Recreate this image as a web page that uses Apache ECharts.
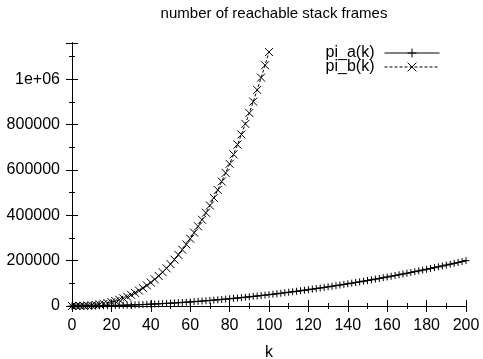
<!DOCTYPE html>
<html>
<head>
<meta charset="utf-8">
<script src="https://cdn.jsdelivr.net/npm/echarts@6/dist/echarts.min.js"></script>
<style>
  html, body { margin: 0; padding: 0; background: #fff; }
  #chart { width: 483px; height: 359px; }
</style>
</head>
<body>
<div id="chart"></div>
<script>
// k 值（每隔 2 取一个点）
const kA = [0,2,4,6,8,10,12,14,16,18,20,22,24,26,28,30,32,34,36,38,40,42,44,46,48,50,52,54,56,58,60,62,64,66,68,70,72,74,76,78,80,82,84,86,88,90,92,94,96,98,100,102,104,106,108,110,112,114,116,118,120,122,124,126,128,130,132,134,136,138,140,142,144,146,148,150,152,154,156,158,160,162,164,166,168,170,172,174,176,178,180,182,184,186,188,190,192,194,196,198,200];
const piA = [0,20,80,180,320,500,720,980,1280,1620,2000,2420,2880,3380,3920,4500,5120,5780,6480,7220,8000,8820,9680,10580,11520,12500,13520,14580,15680,16820,18000,19220,20480,21780,23120,24500,25920,27380,28880,30420,32000,33620,35280,36980,38720,40500,42320,44180,46080,48020,50000,52020,54080,56180,58320,60500,62720,64980,67280,69620,72000,74420,76880,79380,81920,84500,87120,89780,92480,95220,98000,100820,103680,106580,109520,112500,115520,118580,121680,124820,128000,131220,134480,137780,141120,144500,147920,151380,154880,158420,162000,165620,169280,172980,176720,180500,184320,188180,192080,196020,200000];

const kB = [0,2,4,6,8,10,12,14,16,18,20,22,24,26,28,30,32,34,36,38,40,42,44,46,48,50,52,54,56,58,60,62,64,66,68,70,72,74,76,78,80,82,84,86,88,90,92,94,96,98,100];
const piB = [0,0,300,700,1600,2800,4500,6800,9600,13000,17100,21900,27400,33800,40900,49000,57900,67900,78800,90700,103400,117500,132600,148900,166300,184700,204500,225600,248200,271800,296800,323500,351200,380400,411300,443400,476900,511900,549100,587100,627000,668600,711900,756500,803200,851200,901400,953000,1007400,1061900,1120000];

const yTicks = { 1000000: "1e+06" };

const chart = echarts.init(document.getElementById("chart"));

const FONT = "'Liberation Sans', Arial, sans-serif";
const plusPath = "path://M0,5L10,5M5,0L5,10";
const crossPath = "path://M0,0L10,10M0,10L10,0";

const tickAxis = (extra) => Object.assign({
  type: "value",
  axisLine: { show: true, lineStyle: { color: "#000", width: 1 } },
  axisTick: { show: true, inside: true, length: 6, lineStyle: { color: "#000" } },
  axisLabel: { show: false },
  splitLine: { show: false },
}, extra);
const minorTick = { show: true, inside: true, length: 3, lineStyle: { color: "#000" } };

const xBase = { min: 0, max: 200 };
const yBase = { min: 0, max: 1160000 };

chart.setOption({
  animation: false,
  title: {
    text: "number of reachable stack frames",
    left: 269,
    top: 1,
    textAlign: "center",
    textStyle: { fontFamily: FONT, fontSize: 15, fontWeight: "normal", color: "#000" },
  },
  legend: {
    orient: "vertical",
    align: "right",
    right: 38,
    top: 40,
    itemWidth: 55,
    itemHeight: 11,
    itemGap: -2,
    lineStyle: { width: 1 },
    itemStyle: { borderWidth: 1 },
    textStyle: { fontFamily: FONT, fontSize: 16, color: "#000", lineHeight: 13, padding: [0, 5, 0, 0] },
    data: ["pi_a(k)", "pi_b(k)"],
  },
  grid: { left: 72, right: 17, top: 43, bottom: 53, outerBoundsMode: "none", containLabel: false },
  xAxis: [
    tickAxis(Object.assign({}, xBase, {
      position: "bottom", interval: 20,
      axisLabel: { show: true, fontFamily: FONT, fontSize: 16, color: "#000", margin: 12 },
      name: "k", nameLocation: "middle", nameGap: 39,
      nameTextStyle: { fontFamily: FONT, fontSize: 16, color: "#000" },
    })),
    tickAxis(Object.assign({}, xBase, { position: "bottom", interval: 10, axisTick: minorTick })),
    tickAxis(Object.assign({}, xBase, { position: "top", interval: 20 })),
    tickAxis(Object.assign({}, xBase, { position: "top", interval: 10, axisTick: minorTick })),
  ],
  yAxis: [
    tickAxis(Object.assign({}, yBase, {
      position: "left", interval: 200000,
      axisLabel: {
        show: true, fontFamily: FONT, fontSize: 16, color: "#000", margin: 12,
        formatter: (v) => (v % 200000 !== 0 ? "" : (yTicks[v] || String(v))),
      },
    })),
    tickAxis(Object.assign({}, yBase, { position: "left", interval: 100000, axisTick: minorTick })),
    tickAxis(Object.assign({}, yBase, { position: "right", interval: 200000 })),
    tickAxis(Object.assign({}, yBase, { position: "right", interval: 100000, axisTick: minorTick })),
  ],
  series: [
    {
      name: "pi_a(k)",
      type: "line",
      data: kA.map((k, i) => [k, piA[i]]),
      symbol: plusPath,
      symbolSize: 7,
      showAllSymbol: true,
      lineStyle: { color: "#000", width: 1 },
      itemStyle: { color: "none", borderColor: "#000", borderWidth: 1 },
    },
    {
      name: "pi_b(k)",
      type: "line",
      data: kB.map((k, i) => [k, piB[i]]),
      symbol: crossPath,
      symbolSize: 8,
      showAllSymbol: true,
      lineStyle: { color: "#000", width: 1, type: [3, 2] },
      itemStyle: { color: "none", borderColor: "#000", borderWidth: 1 },
    },
  ],
});
</script>
</body>
</html>
